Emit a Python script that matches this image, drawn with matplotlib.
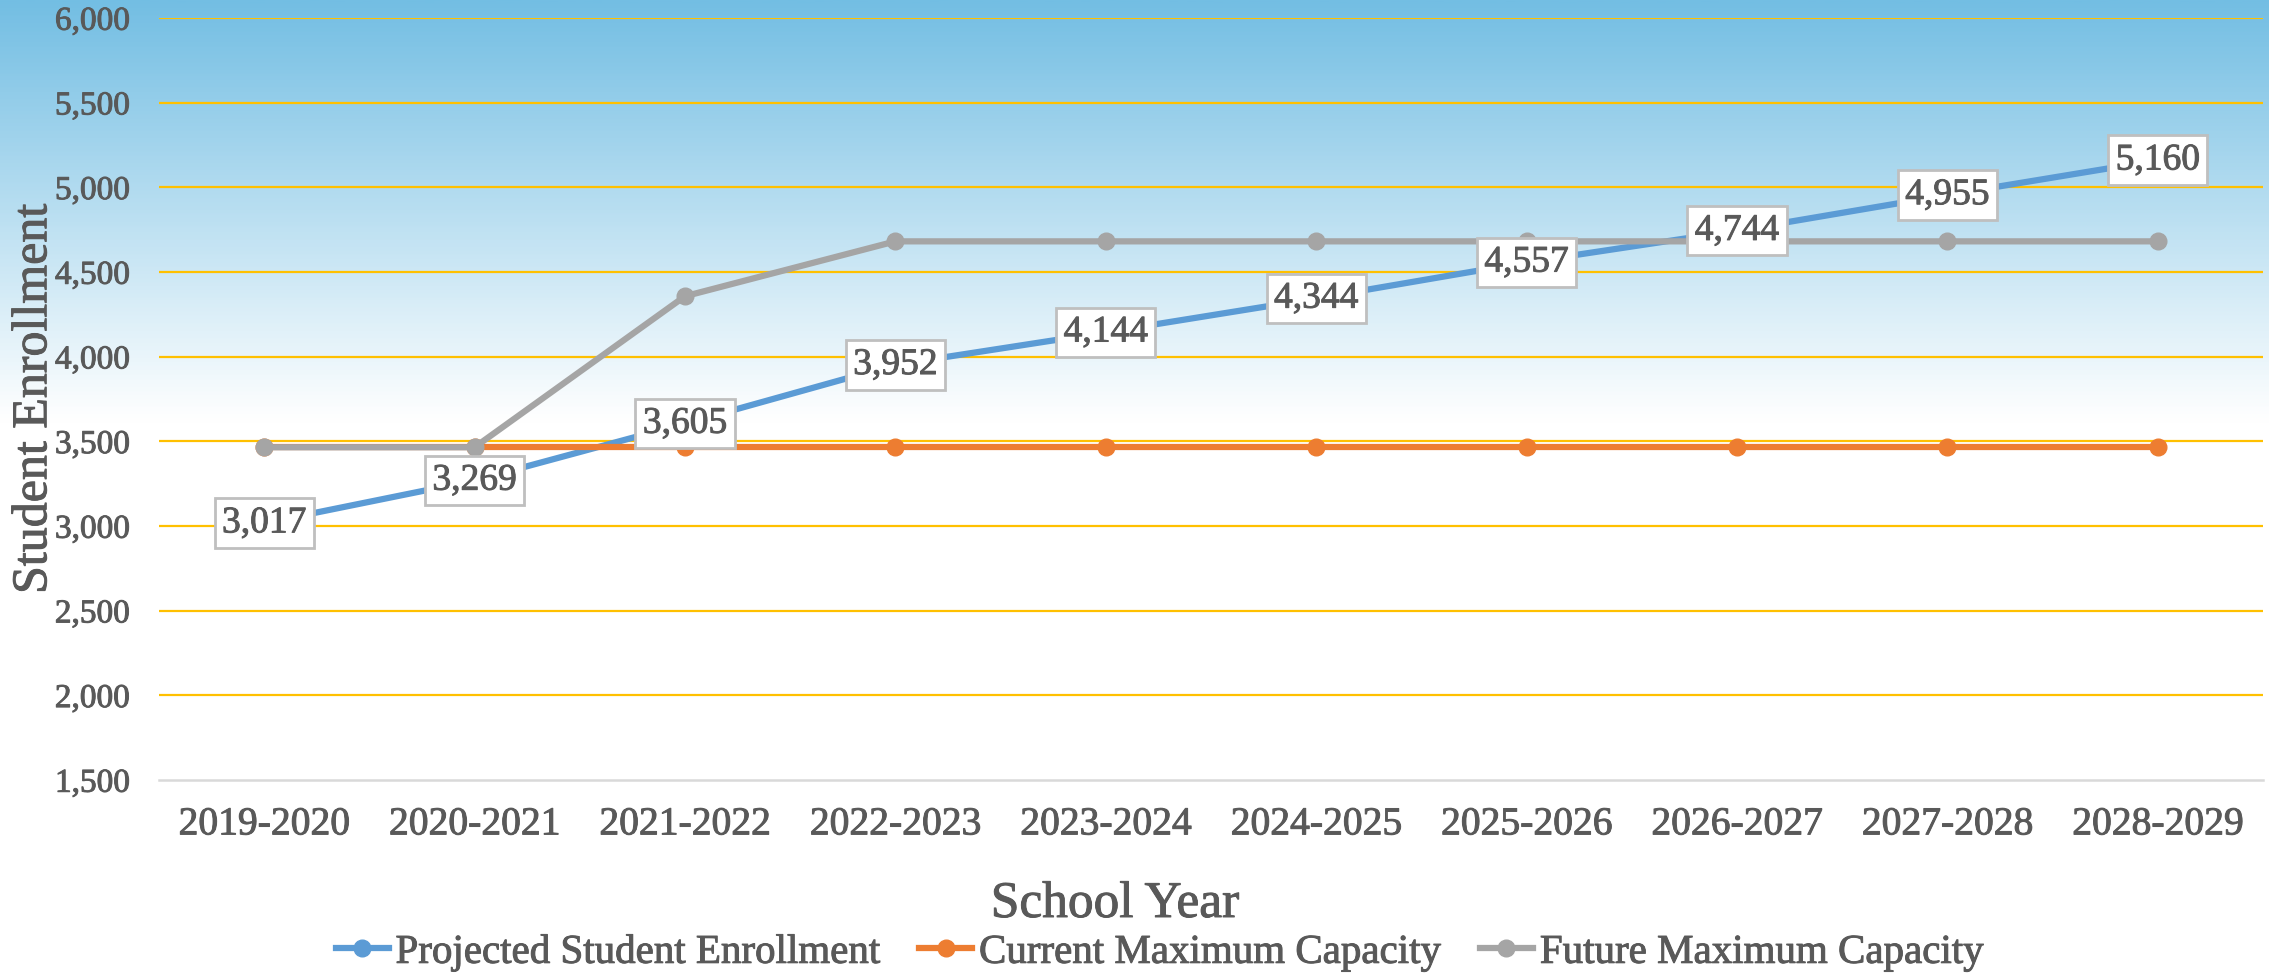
import numpy as np
import matplotlib.pyplot as plt
import matplotlib.patheffects as pe
from matplotlib.colors import LinearSegmentedColormap

years = ['2019-2020', '2020-2021', '2021-2022', '2022-2023', '2023-2024',
         '2024-2025', '2025-2026', '2026-2027', '2027-2028', '2028-2029']
enrollment = [3017, 3269, 3605, 3952, 4144, 4344, 4557, 4744, 4955, 5160]
current_cap = [3465] * 10
future_cap = [3465, 3465, 4357, 4681, 4681, 4681, 4681, 4681, 4681, 4681]

blue = '#5B9BD5'
orange = '#ED7D31'
gray = '#A5A5A5'
txt = '#595959'
heavy = [pe.withStroke(linewidth=0.7, foreground=txt)]

plt.rcParams['font.family'] = ['Liberation Serif', 'DejaVu Serif']

W, H = 2269, 973
fig = plt.figure(figsize=(W / 100, H / 100), dpi=100)

# gradient background over the whole figure
bg = fig.add_axes([0, 0, 1, 1], zorder=-10)
grad_top = 420 / H
cmap = LinearSegmentedColormap.from_list(
    'bg', [(0, '#73BEE3'), (grad_top, '#FFFFFF'), (1, '#FFFFFF')])
bg.imshow(np.linspace(0, 1, 500).reshape(-1, 1), cmap=cmap, aspect='auto',
          extent=[0, 1, 1, 0], vmin=0, vmax=1)
bg.axis('off')

left, right = 159 / W, 2263 / W
top, bottom = 1 - 18 / H, 1 - 780 / H
ax = fig.add_axes([left, bottom, right - left, top - bottom])
ax.set_facecolor('none')

x = np.arange(len(years))
lw, ms = 4.5, 12
ax.plot(x, enrollment, color=blue, lw=lw, marker='o', ms=ms, zorder=3,
        label='Projected Student Enrollment')
ax.plot(x, current_cap, color=orange, lw=lw, marker='o', ms=ms, zorder=4,
        label='Current Maximum Capacity')
ax.plot(x, future_cap, color=gray, lw=lw, marker='o', ms=ms, zorder=5,
        label='Future Maximum Capacity')

for xi, v in zip(x, enrollment):
    ax.text(xi, v, f'{v:,}', ha='center', va='center', fontsize=27, color=txt,
            zorder=10, path_effects=heavy,
            bbox=dict(boxstyle='square,pad=0.2', fc='white', ec='#BFBFBF', lw=2))

ax.set_xlim(-0.5, len(years) - 0.5)
ax.set_ylim(1500, 6000)
ax.set_yticks(np.arange(1500, 6001, 500))
ax.set_yticklabels([f'{t:,}' for t in range(1500, 6001, 500)])
ax.set_xticks(x)
ax.set_xticklabels(years)
ax.tick_params(axis='y', length=0, pad=21, labelsize=24, labelcolor=txt)
ax.tick_params(axis='x', length=0, pad=19, labelsize=28.5, labelcolor=txt)
for lab in ax.get_xticklabels() + ax.get_yticklabels():
    lab.set_path_effects(heavy)

ax.grid(axis='y', color='#FFC000', lw=1.6, zorder=0)
ax.yaxis.get_gridlines()[0].set_visible(False)
ax.set_axisbelow(True)
for s in ['top', 'right', 'left']:
    ax.spines[s].set_visible(False)
ax.spines['bottom'].set_color('#D9D9D9')
ax.spines['bottom'].set_linewidth(1.8)

fig.text(34 / W, 1 - 399 / H, 'Student Enrollment', rotation=90, ha='center',
         va='center', fontsize=36, color=txt, path_effects=heavy)
fig.text(1115 / W, 1 - 917 / H, 'School Year', ha='center', va='baseline',
         fontsize=37, color=txt, path_effects=heavy)

fs = 29.5
fs_px = fs * 100 / 72
leg = fig.legend(loc='center', bbox_to_anchor=(1160 / W, 1 - 953 / H), ncol=3,
                 frameon=False, fontsize=fs, handlelength=53 / fs_px,
                 handletextpad=7 / fs_px, columnspacing=38 / fs_px,
                 borderaxespad=0, borderpad=0)
for t in leg.get_texts():
    t.set_color(txt)
    t.set_path_effects(heavy)

fig.savefig('out.png', dpi=100)
